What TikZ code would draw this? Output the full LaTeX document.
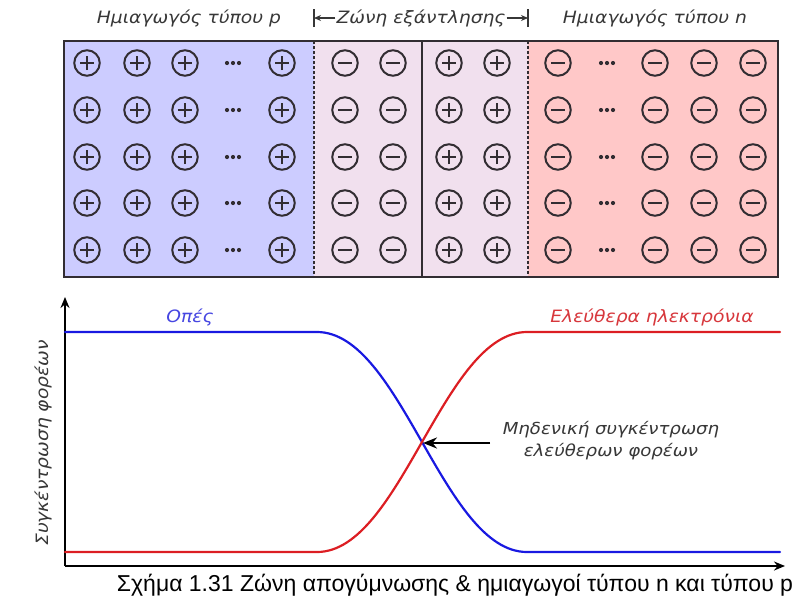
\documentclass[tikz,border=0pt]{standalone}
\usepackage{fontspec}
\setmainfont{Liberation Sans}
\newfontfamily\lblfont[FakeStretch=1.1]{DejaVu Sans}
\usetikzlibrary{arrows.meta}
\definecolor{ink}{RGB}{50,45,50}
\definecolor{pfill}{RGB}{204,204,255}
\definecolor{dfill}{RGB}{241,224,238}
\definecolor{nfill}{RGB}{255,200,200}
\definecolor{holeblue}{RGB}{25,25,225}
\definecolor{elecred}{RGB}{220,30,35}
\definecolor{holetext}{RGB}{70,70,225}
\definecolor{electext}{RGB}{215,55,60}
\definecolor{txtgray}{RGB}{55,55,55}
\begin{document}
\begin{tikzpicture}[x=1pt,y=-1pt,
  ion/.style={circle, draw=ink, line width=2pt, minimum size=25.5pt, inner sep=0pt},
  plusion/.style={ion, path picture={\draw[ink,line width=1.9pt]
      ([xshift=-7pt]path picture bounding box.center) -- ([xshift=7pt]path picture bounding box.center)
      ([yshift=-7pt]path picture bounding box.center) -- ([yshift=7pt]path picture bounding box.center);}},
  minusion/.style={ion, path picture={\draw[ink,line width=1.9pt]
      ([xshift=-7pt]path picture bounding box.center) -- ([xshift=7pt]path picture bounding box.center);}},
  ellip/.style={inner sep=0pt, minimum width=20pt, minimum height=6pt, path picture={
      \foreach \d in {-6,0,6} \fill[ink] ([xshift=\d pt]path picture bounding box.center) circle (2.1pt);}},
  label/.style={font=\lblfont\itshape\fontsize{17}{20}\selectfont, text=txtgray, inner sep=1pt},
  curve/.style={line width=2.2pt, line cap=round},
  axis/.style={line width=2pt, -{Stealth[length=11pt,width=9pt]}},
]
\useasboundingbox (0,0) rectangle (798,603);

% ---- crystal: regions ----
\fill[pfill] (64,41) rectangle (314,277);
\fill[dfill] (314,41) rectangle (528,277);
\fill[nfill] (528,41) rectangle (778,277);
\draw[ink, line width=1.8pt, dash pattern=on 3pt off 2pt] (314,41) -- (314,277);
\draw[ink, line width=1.8pt, dash pattern=on 3pt off 2pt] (528,41) -- (528,277);
\draw[ink, line width=1.8pt] (422,41) -- (422,277);
\draw[ink, line width=2.2pt] (64,41) rectangle (778,277);

% ---- ions ----
\foreach \y [count=\r] in {63,110,157,203,250} {
  % p side
  \foreach \x [count=\c] in {87,137,185,282} \node[plusion] (pp\r-\c) at (\x,\y) {};
  \node[ellip] (pd\r) at (233,\y) {};
  % depletion zone
  \foreach \x [count=\c] in {345,393} \node[minusion] (dm\r-\c) at (\x,\y) {};
  \foreach \x [count=\c] in {449,497} \node[plusion] (dp\r-\c) at (\x,\y) {};
  % n side
  \foreach \x [count=\c] in {558,655,704,753} \node[minusion] (nm\r-\c) at (\x,\y) {};
  \node[ellip] (nd\r) at (607,\y) {};
}

% ---- region titles ----
\node[label] (ptitle) at (189,18) {Ημιαγωγός τύπου p};
\node[label] (ntitle) at (655,18) {Ημιαγωγός τύπου n};
\node[label] (dtitle) at (421,18) {Ζώνη εξάντλησης};
\coordinate (dl) at (314,18);
\coordinate (dr) at (528,18);
\draw[txtgray, line width=1.1pt] ([yshift=-9pt]dl) -- ([yshift=9pt]dl);
\draw[txtgray, line width=1.1pt] ([yshift=-9pt]dr) -- ([yshift=9pt]dr);
\draw[txtgray, line width=1.1pt, -{Stealth[length=7pt,width=6pt]}] (dtitle.west) -- (dl);
\draw[txtgray, line width=1.1pt, -{Stealth[length=7pt,width=6pt]}] (dtitle.east) -- (dr);

% ---- concentration plot ----
\coordinate (origin) at (65,566);
\coordinate (ytip) at (65,297);
\coordinate (xtip) at (785,566);
\draw[axis] (origin) -- (ytip);
\draw[axis] (origin) -- (xtip);

\draw[curve, holeblue] (65,332) -- (317,332)
  .. controls (401,332) and (443,552) .. (527,552) -- (780,552);
\draw[curve, elecred] (65,552) -- (317,552)
  .. controls (401,552) and (443,332) .. (527,332) -- (780,332);

\node[label, text=holetext] (holes) at (190,317) {Οπές};
\node[label, text=electext] (elecs) at (652,317) {Ελεύθερα ηλεκτρόνια};
\node[label, rotate=90] (ylab) at (43,443) {Συγκέντρωση φορέων};

\coordinate (cross) at (423,443);
\node[label, align=center, font=\lblfont\itshape\fontsize{16.5}{22}\selectfont] (zero) at (611,441)
  {Μηδενική συγκέντρωση\\ελεύθερων φορέων};
\coordinate (ztail) at (490,443);
\draw[black, line width=2.4pt, -{Stealth[length=14pt,width=11pt]}] (ztail) -- (cross);

% ---- caption ----
\node[font=\fontsize{23}{26}\selectfont, inner sep=0pt] (caption) at (455,585)
  {Σχήμα 1.31 Ζώνη απογύμνωσης \& ημιαγωγοί τύπου n και τύπου p};
\end{tikzpicture}
\end{document}
